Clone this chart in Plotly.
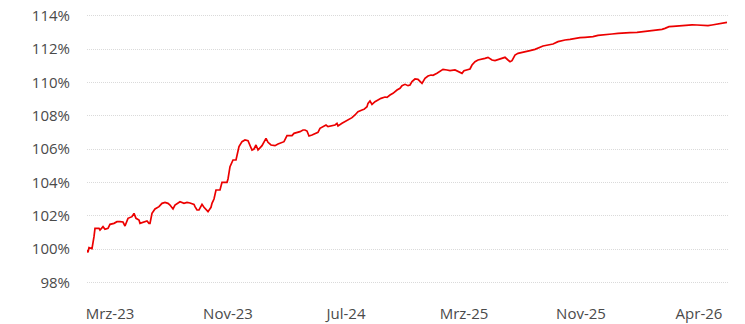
import plotly.graph_objects as go

# Trading-day index of each sample and the indexed value (start = 100 %)
day = [0, 1, 2, 4, 5, 7, 8, 12, 13, 16, 18, 21, 23, 27, 30, 33, 36, 38, 41, 45,
       47, 49, 52, 53, 57, 60, 62, 63, 65, 68, 72, 75, 78, 81, 83, 86, 88, 93, 97, 100,
       103, 107, 108, 110, 112, 115, 117, 121, 124, 125, 127, 129, 133, 135, 140, 141, 143, 146, 149, 150,
       152, 155, 158, 161, 163, 165, 167, 169, 171, 175, 179, 181, 184, 188, 191, 195, 197, 200, 205, 207,
       210, 213, 216, 218, 220, 222, 225, 228, 231, 233, 236, 239, 241, 245, 248, 250, 251, 255, 258, 261,
       265, 268, 271, 275, 277, 280, 281, 283, 285, 288, 291, 294, 298, 300, 303, 306, 310, 313, 315, 318,
       321, 323, 325, 328, 331, 333, 335, 338, 341, 344, 346, 350, 353, 356, 360, 363, 368, 371, 375, 377,
       381, 383, 385, 388, 391, 395, 398, 401, 405, 408, 411, 415, 418, 421, 423, 425, 428, 431, 435, 438,
       443, 448, 453, 456, 461, 466, 471, 473, 478, 483, 488, 493, 498, 503, 506, 511, 518, 525, 531, 538,
       543, 550, 556, 563, 570, 575, 578, 582, 586, 593, 600, 605, 610, 615, 618, 621, 625, 630, 635, 640]

value = [99.94, 99.80, 100.08, 100.04, 100.02, 100.74, 101.24, 101.24, 101.14, 101.34,
         101.18, 101.24, 101.48, 101.54, 101.64, 101.64, 101.62, 101.38, 101.84, 101.94,
         102.14, 101.84, 101.74, 101.54, 101.64, 101.68, 101.54, 101.54, 102.14, 102.40,
         102.54, 102.74, 102.80, 102.74, 102.64, 102.40, 102.64, 102.84, 102.74, 102.80,
         102.76, 102.68, 102.54, 102.34, 102.34, 102.68, 102.50, 102.24, 102.50, 102.74,
         103.00, 103.54, 103.54, 104.00, 104.00, 104.20, 104.94, 105.34, 105.34, 105.60,
         106.14, 106.44, 106.54, 106.50, 106.24, 105.94, 106.00, 106.24, 105.94, 106.20,
         106.64, 106.40, 106.24, 106.20, 106.30, 106.38, 106.44, 106.80, 106.80, 106.94,
         106.98, 107.04, 107.14, 107.14, 107.08, 106.78, 106.84, 106.90, 107.00, 107.24,
         107.34, 107.44, 107.34, 107.38, 107.44, 107.54, 107.38, 107.54, 107.64, 107.78,
         107.88, 108.04, 108.24, 108.34, 108.38, 108.54, 108.74, 108.88, 108.68, 108.84,
         108.94, 109.04, 109.12, 109.10, 109.24, 109.34, 109.54, 109.64, 109.80, 109.88,
         109.80, 109.84, 110.04, 110.20, 110.18, 110.04, 109.94, 110.24, 110.38, 110.44,
         110.42, 110.54, 110.64, 110.78, 110.74, 110.70, 110.74, 110.64, 110.54, 110.70,
         110.78, 110.80, 111.04, 111.24, 111.34, 111.38, 111.44, 111.50, 111.34, 111.30,
         111.36, 111.44, 111.50, 111.34, 111.24, 111.30, 111.64, 111.74, 111.78, 111.84,
         111.90, 111.98, 112.10, 112.18, 112.24, 112.30, 112.44, 112.48, 112.54, 112.58,
         112.64, 112.68, 112.70, 112.70, 112.74, 112.82, 112.84, 112.90, 112.94, 112.98,
         112.98, 113.00, 113.04, 113.08, 113.12, 113.18, 113.24, 113.34, 113.36, 113.40,
         113.44, 113.45, 113.44, 113.42, 113.38, 113.40, 113.44, 113.50, 113.56, 113.60]

tick_days = [23, 141, 259, 377, 494, 612]
tick_labels = ["Mrz-23", "Nov-23", "Jul-24", "Mrz-25", "Nov-25", "Apr-26"]
y_ticks = [98, 100, 102, 104, 106, 108, 110, 112, 114]

font_family = "Open Sans"
text_color = "#4a4a4a"
grid_color = "#dadada"

fig = go.Figure()
fig.add_trace(go.Scatter(
    x=day, y=value, mode="lines",
    line=dict(color="#ec0000", width=1.7),
    hoverinfo="skip", showlegend=False,
))

fig.update_layout(
    width=745, height=324,
    margin=dict(l=87, r=17, t=9, b=25),
    paper_bgcolor="white", plot_bgcolor="white",
    font=dict(family=font_family, size=15, color=text_color),
    xaxis=dict(
        range=[0, 641], automargin=False,
        tickmode="array", tickvals=tick_days, ticktext=tick_labels,
        showgrid=False, zeroline=False, showline=False,
        ticks="", ticklabelstandoff=4,
        tickfont=dict(family=font_family, size=15, color=text_color),
    ),
    yaxis=dict(
        range=[97, 114.4], automargin=False,
        tickmode="array", tickvals=y_ticks,
        ticktext=[f"{v}%" for v in y_ticks],
        showgrid=True, gridcolor=grid_color, gridwidth=1, griddash="1px,1px",
        zeroline=False, showline=False,
        ticks="", ticklabelstandoff=16,
        tickfont=dict(family=font_family, size=15, color=text_color),
    ),
)

fig.write_html("out.html")
